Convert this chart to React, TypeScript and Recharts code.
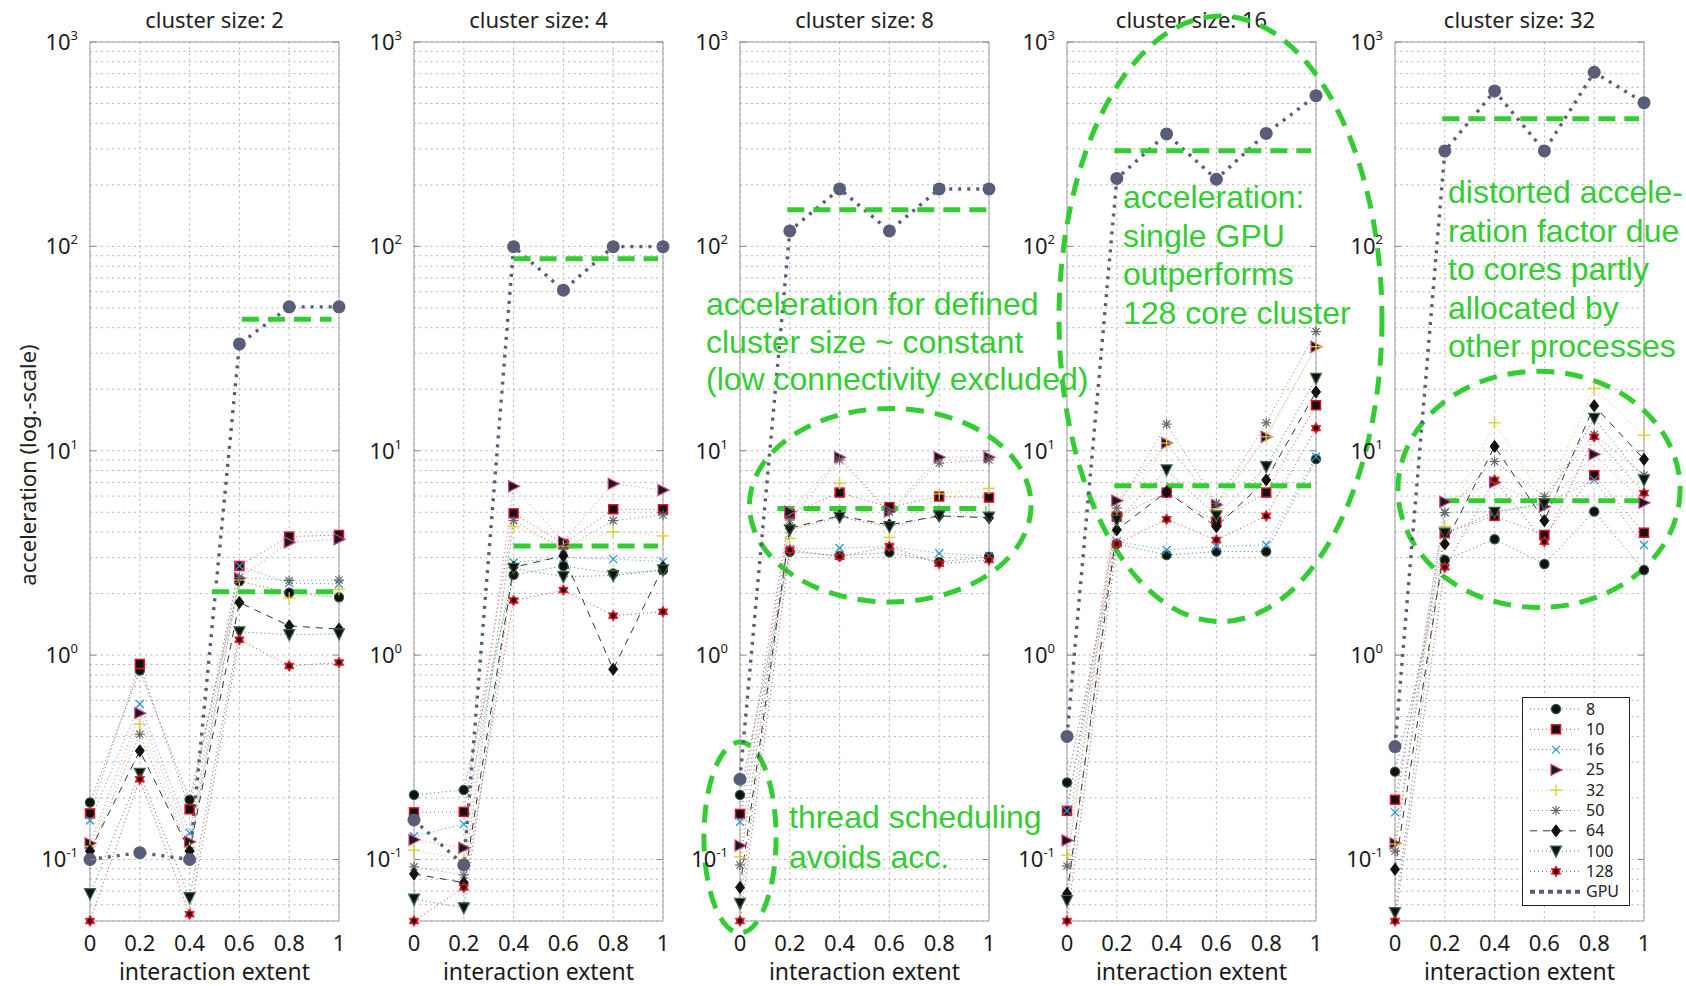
import React from 'react'
import {
  CartesianGrid,
  Legend,
  Line,
  LineChart,
  ReferenceArea,
  ReferenceLine,
  XAxis,
  YAxis,
} from 'recharts'

// cluster sizes, one panel each
const clusterSizes = [2, 4, 8, 16, 32]
const extents = [0, 0.2, 0.4, 0.6, 0.8, 1]
const yTicks = [
  0.05, 0.06, 0.07, 0.08, 0.09,
  0.1, 0.2, 0.3, 0.4, 0.5, 0.6, 0.7, 0.8, 0.9,
  1, 2, 3, 4, 5, 6, 7, 8, 9,
  10, 20, 30, 40, 50, 60, 70, 80, 90,
  100, 200, 300, 400, 500, 600, 700, 800, 900,
  1000,
]

// acceleration per number of cores, one row per cluster size
const cores8 = [
  [0.19, 0.84, 0.196, 2.3, 2.02, 1.92],
  [0.207, 0.219, 2.47, 2.73, 2.51, 2.6],
  [0.207, 3.2, 3.06, 3.18, 2.86, 3.03],
  [0.238, 3.5, 3.09, 3.21, 3.21, 9.1],
  [0.269, 2.92, 3.69, 2.79, 5.04, 2.61],
]
const cores10 = [
  [0.168, 0.905, 0.176, 2.73, 3.8, 3.87],
  [0.17, 0.171, 4.94, 3.5, 5.17, 5.17],
  [0.167, 4.9, 6.24, 5.3, 5.97, 5.9],
  [0.173, 4.76, 6.24, 4.5, 6.24, 16.7],
  [0.196, 3.95, 4.8, 3.87, 7.6, 3.97],
]
const cores16 = [
  [0.155, 0.577, 0.135, 2.73, 2.25, 2.23],
  [0.13, 0.149, 2.84, 3.0, 2.95, 2.87],
  [0.153, 3.3, 3.34, 3.4, 3.15, 3.06],
  [0.173, 3.6, 3.27, 3.4, 3.46, 9.35],
  [0.17, 5.0, 5.04, 5.5, 7.2, 3.46],
]
const cores25 = [
  [0.12, 0.52, 0.122, 2.38, 3.56, 3.69],
  [0.125, 0.114, 6.7, 3.59, 6.9, 6.42],
  [0.117, 5.04, 9.3, 5.04, 9.3, 9.3],
  [0.124, 5.7, 10.9, 5.43, 11.7, 32.3],
  [0.12, 5.63, 7.0, 5.33, 9.6, 5.57],
]
const cores32 = [
  [0.116, 0.46, 0.114, 2.33, 1.9, 2.1],
  [0.111, 0.1, 4.25, 3.4, 4.02, 3.83],
  [0.103, 3.73, 6.93, 3.77, 6.15, 6.55],
  [0.105, 4.7, 10.9, 5.2, 11.7, 32.3],
  [0.119, 4.26, 13.7, 5.8, 20.2, 11.9],
]
const cores50 = [
  [0.11, 0.41, 0.11, 2.4, 2.32, 2.33],
  [0.092, 0.084, 4.55, 3.3, 4.55, 4.85],
  [0.094, 4.58, 9.0, 5.0, 8.7, 9.0],
  [0.093, 5.24, 13.5, 5.53, 13.7, 38.3],
  [0.11, 4.98, 8.86, 5.97, 12, 7.6],
]
const cores64 = [
  [0.11, 0.34, 0.11, 1.81, 1.39, 1.34],
  [0.085, 0.077, 2.69, 3.06, 0.853, 2.69],
  [0.073, 4.18, 4.8, 4.34, 4.8, 4.7],
  [0.068, 4.1, 6.3, 4.25, 7.2, 19.4],
  [0.0895, 3.5, 10.5, 4.55, 16.6, 9.08],
]
const cores100 = [
  [0.068, 0.264, 0.065, 1.3, 1.26, 1.27],
  [0.064, 0.058, 2.66, 2.42, 2.45, 2.61],
  [0.061, 4.1, 4.73, 4.25, 4.8, 4.73],
  [0.063, 4.58, 8.06, 4.8, 8.36, 22.6],
  [0.055, 3.95, 5.0, 5.5, 14.4, 7.2],
]
const cores128 = [
  [0.05, 0.247, 0.054, 1.19, 0.885, 0.92],
  [0.05, 0.073, 1.85, 2.08, 1.56, 1.63],
  [0.05, 3.27, 3.03, 3.4, 2.8, 2.92],
  [0.05, 3.5, 4.62, 3.66, 4.8, 12.9],
  [0.05, 2.69, 7.2, 3.59, 11.7, 6.2],
]
const gpu = [
  [0.1, 0.108, 0.1, 33.3, 50.6, 50.6],
  [0.156, 0.094, 99.7, 61, 99.7, 99.7],
  [0.247, 119, 191, 119, 191, 191],
  [0.4, 215, 355, 213, 357, 546],
  [0.357, 293, 576, 293, 711, 505],
]

// green dashed "mean level" marks, per panel
const gpuLevel = [44, 87, 151, 294, 421]
const gpuLevelFrom = [0.61, 0.4, 0.19, 0.19, 0.19]
const gpuLevelTo = [0.97, 0.98, 1, 0.98, 0.98]
const cpuLevel = [2.04, 3.42, 5.22, 6.74, 5.7]
const cpuLevelFrom = [0.49, 0.4, 0.15, 0.19, 0.19]
const cpuLevelTo = [1, 0.98, 0.99, 0.98, 1.01]

// dashed ellipses (bounding box in data units)
const ellipses = [
  { panel: 2, x1: 0.038, x2: 1.169, y1: 1.82, y2: 16.1 },
  { panel: 2, x1: -0.145, x2: 0.145, y1: 0.0437, y2: 0.376 },
  { panel: 3, x1: -0.032, x2: 1.265, y1: 1.46, y2: 1341 },
  { panel: 4, x1: 0.012, x2: 1.145, y1: 1.71, y2: 24.5 },
]

const notes = [
  { x: 706, y: 315, step: 37.7, lines: ['acceleration for defined', 'cluster size ~ constant', '(low connectivity excluded)'] },
  { x: 789, y: 828, step: 39.7, lines: ['thread scheduling', 'avoids acc.'] },
  { x: 1123, y: 208, step: 38.5, lines: ['acceleration:', 'single GPU', 'outperforms', '128 core cluster'] },
  { x: 1448, y: 203, step: 38.5, lines: ['distorted accele-', 'ration factor due', 'to cores partly', 'allocated by', 'other processes'] },
]

const series = [
  { key: 's8', name: '8', values: cores8, color: '#4a7a5a', width: 1, dash: '1 3', marker: 'circle' },
  { key: 's10', name: '10', values: cores10, color: '#e84a4a', width: 1, dash: '1 3', marker: 'square' },
  { key: 's16', name: '16', values: cores16, color: '#3aa0d8', width: 1, dash: '1 3', marker: 'cross' },
  { key: 's25', name: '25', values: cores25, color: '#e07aa8', width: 1, dash: '1 3', marker: 'triRight' },
  { key: 's32', name: '32', values: cores32, color: '#d8cc50', width: 1, dash: '1 3', marker: 'plus' },
  { key: 's50', name: '50', values: cores50, color: '#888888', width: 1, dash: '1 3', marker: 'star' },
  { key: 's64', name: '64', values: cores64, color: '#333333', width: 1, dash: '7 6', marker: 'diamond' },
  { key: 's100', name: '100', values: cores100, color: '#4a7a5a', width: 1, dash: '1 3', marker: 'triDown' },
  { key: 's128', name: '128', values: cores128, color: '#e43a3a', width: 1, dash: '1 3', marker: 'hexagram' },
  { key: 'gpu', name: 'GPU', values: gpu, color: '#5a5d78', width: 3.4, dash: '3 6', marker: 'gpu' },
]

const GREEN = '#33cc33'
const AXIS_FONT = "'Noto Sans', 'DejaVu Sans', sans-serif"
const NOTE_FONT = "'Liberation Sans', Arial, sans-serif"
const PLOT_W = 249
const AXIS_W = 70
const CHART_W = AXIS_W + PLOT_W + 45
const CHART_H = 986
const plotLefts = [90, 414, 740, 1067, 1395]

function Marker({ kind, cx, cy }: { kind: string; cx: number; cy: number }) {
  if (cx == null || cy == null) return <g />
  switch (kind) {
    case 'circle':
      return <circle cx={cx} cy={cy} r={4.6} fill="#111" stroke="#2e5c3c" strokeWidth={1.2} />
    case 'square':
      return <rect x={cx - 4.5} y={cy - 4.5} width={9} height={9} fill="#111" stroke="#e0102a" strokeWidth={1.5} />
    case 'cross':
      return (
        <g stroke="#2a98d0" strokeWidth={1.3}>
          <line x1={cx - 4} y1={cy - 4} x2={cx + 4} y2={cy + 4} />
          <line x1={cx - 4} y1={cy + 4} x2={cx + 4} y2={cy - 4} />
        </g>
      )
    case 'triRight':
      return (
        <polygon
          points={`${cx - 5},${cy - 5.5} ${cx + 6},${cy} ${cx - 5},${cy + 5.5}`}
          fill="#1a1a1a"
          stroke="#d0408a"
          strokeWidth={1.2}
        />
      )
    case 'plus':
      return (
        <g stroke="#d9cd3a" strokeWidth={1.3}>
          <line x1={cx - 6} y1={cy} x2={cx + 6} y2={cy} />
          <line x1={cx} y1={cy - 6} x2={cx} y2={cy + 6} />
        </g>
      )
    case 'star':
      return (
        <g stroke="#666" strokeWidth={1.2}>
          <line x1={cx - 5} y1={cy} x2={cx + 5} y2={cy} />
          <line x1={cx} y1={cy - 5} x2={cx} y2={cy + 5} />
          <line x1={cx - 3.6} y1={cy - 3.6} x2={cx + 3.6} y2={cy + 3.6} />
          <line x1={cx - 3.6} y1={cy + 3.6} x2={cx + 3.6} y2={cy - 3.6} />
        </g>
      )
    case 'diamond':
      return (
        <polygon
          points={`${cx},${cy - 6} ${cx + 4.5},${cy} ${cx},${cy + 6} ${cx - 4.5},${cy}`}
          fill="#111"
          stroke="#111"
        />
      )
    case 'triDown':
      return (
        <polygon
          points={`${cx - 5.5},${cy - 5} ${cx + 5.5},${cy - 5} ${cx},${cy + 6}`}
          fill="#111"
          stroke="#3a6a4a"
          strokeWidth={1.2}
        />
      )
    case 'hexagram': {
      const r = 5.5
      const tri = (rot: number) =>
        [0, 1, 2]
          .map((k) => {
            const a = rot + (k * 2 * Math.PI) / 3
            return `${cx + r * Math.sin(a)},${cy - r * Math.cos(a)}`
          })
          .join(' ')
      return (
        <g fill="#e01020" stroke="#e01020" strokeWidth={0.8}>
          <polygon points={tri(0)} />
          <polygon points={tri(Math.PI)} />
          <circle cx={cx} cy={cy} r={2.4} fill="#111" stroke="none" />
        </g>
      )
    }
    case 'gpu':
      return <circle cx={cx} cy={cy} r={6.5} fill="#5a5d78" />
    default:
      return <g />
  }
}

function DecadeTick(props: any) {
  const { x, y, payload } = props
  const lg = Math.log10(payload.value)
  const exp = Math.round(lg)
  if (Math.abs(lg - exp) > 1e-6) return <g />
  const left = x + 12
  return (
    <g>
      <line x1={left} x2={left + 6} y1={y} y2={y} stroke="#888" />
      <line x1={left + PLOT_W - 6} x2={left + PLOT_W} y1={y} y2={y} stroke="#888" />
      <text x={x} y={y + 8} textAnchor="end" fill="#1a1a1a" fontSize={22} fontFamily={AXIS_FONT}>
        10
        <tspan dy={-10} fontSize={13}>
          {exp}
        </tspan>
      </text>
    </g>
  )
}

function LegendBox() {
  return (
    <svg width={108} height={209} style={{ display: 'block' }}>
      <rect x={0.5} y={0.5} width={107} height={208} fill="#fff" stroke="#222" />
      {series.map((s, i) => {
        const y = 12 + i * 20.3
        return (
          <g key={s.key}>
            <line
              x1={8}
              x2={58}
              y1={y}
              y2={y}
              stroke={s.color}
              strokeWidth={s.key === 'gpu' ? 4 : s.width}
              strokeDasharray={s.key === 'gpu' ? '5 4' : s.dash}
            />
            {s.key !== 'gpu' && <Marker kind={s.marker} cx={34} cy={y} />}
            <text x={64} y={y + 5.5} fontSize={16} fill="#222" fontFamily={AXIS_FONT}>
              {s.name}
            </text>
          </g>
        )
      })}
    </svg>
  )
}

function Panel({ index }: { index: number }) {
  const data = extents.map((x, i) => {
    const row: Record<string, number> = { x }
    series.forEach((s) => {
      row[s.key] = s.values[index][i]
    })
    return row
  })

  return (
    <div style={{ position: 'absolute', left: plotLefts[index] - AXIS_W, top: 0 }}>
      <LineChart
        width={CHART_W}
        height={CHART_H}
        data={data}
        margin={{ top: 42, right: 45, bottom: 5, left: 0 }}
      >
        <CartesianGrid stroke="#b2b2b2" strokeDasharray="2 3.5" />
        <XAxis
          dataKey="x"
          type="number"
          domain={[0, 1]}
          ticks={extents}
          interval={0}
          tickLine={false}
          axisLine={false}
          tickSize={0}
          tickMargin={14}
          height={60}
          tick={{ fontSize: 22, fill: '#1a1a1a', fontFamily: AXIS_FONT }}
          tickFormatter={(v) => String(v)}
          label={{
            value: 'interaction extent',
            position: 'insideBottom',
            offset: 1,
            fontSize: 23,
            fill: '#1a1a1a',
            fontFamily: AXIS_FONT,
          }}
        />
        <YAxis
          type="number"
          scale="log"
          domain={[0.05, 1000]}
          ticks={yTicks}
          interval={0}
          width={AXIS_W}
          axisLine={false}
          tickLine={false}
          tickSize={0}
          tickMargin={12}
          tick={<DecadeTick />}
        />
        <ReferenceArea
          x1={0}
          x2={1}
          y1={0.05}
          y2={1000}
          fill="none"
          fillOpacity={0}
          stroke="#a0a0a0"
          strokeWidth={1}
          ifOverflow="visible"
        />
        {series.map((s) => (
          <Line
            key={s.key}
            type="linear"
            dataKey={s.key}
            name={s.name}
            stroke={s.color}
            strokeWidth={s.width}
            strokeDasharray={s.dash}
            dot={(p: any) => <Marker key={`${s.key}-${p.index}`} kind={s.marker} cx={p.cx} cy={p.cy} />}
            activeDot={false}
            isAnimationActive={false}
          />
        ))}
        <ReferenceLine
          segment={[
            { x: gpuLevelFrom[index], y: gpuLevel[index] },
            { x: gpuLevelTo[index], y: gpuLevel[index] },
          ]}
          stroke={GREEN}
          strokeWidth={5}
          strokeDasharray="17 9"
          ifOverflow="visible"
        />
        <ReferenceLine
          segment={[
            { x: cpuLevelFrom[index], y: cpuLevel[index] },
            { x: cpuLevelTo[index], y: cpuLevel[index] },
          ]}
          stroke={GREEN}
          strokeWidth={5}
          strokeDasharray="17 9"
          ifOverflow="visible"
        />
        {ellipses
          .filter((e) => e.panel === index)
          .map((e, k) => (
            <ReferenceArea
              key={k}
              x1={e.x1}
              x2={e.x2}
              y1={e.y1}
              y2={e.y2}
              ifOverflow="visible"
              shape={(p: any) => (
                <ellipse
                  cx={p.x + p.width / 2}
                  cy={p.y + p.height / 2}
                  rx={Math.abs(p.width) / 2}
                  ry={Math.abs(p.height) / 2}
                  fill="none"
                  stroke={GREEN}
                  strokeWidth={5}
                  strokeDasharray="18 11"
                />
              )}
            />
          ))}
        {index === 4 && (
          <Legend
            layout="horizontal"
            verticalAlign="middle"
            align="center"
            wrapperStyle={{ left: 197, top: 697, width: 108, height: 209 }}
            content={() => <LegendBox />}
          />
        )}
      </LineChart>
    </div>
  )
}

export default function App() {
  return (
    <div
      style={{
        position: 'absolute',
        left: 0,
        top: 0,
        width: 1686,
        height: 986,
        background: '#fff',
        overflow: 'hidden',
      }}
    >
      <style>{'.recharts-surface{overflow:visible}'}</style>
      <svg width={1686} height={986} style={{ position: 'absolute', left: 0, top: 0 }}>
        {clusterSizes.map((c, i) => (
          <text
            key={c}
            x={plotLefts[i] + PLOT_W / 2}
            y={28}
            textAnchor="middle"
            fontSize={22}
            fill="#222"
            fontFamily={AXIS_FONT}
          >
            {`cluster size: ${c}`}
          </text>
        ))}
        <text
          transform="translate(27,465) rotate(-90)"
          textAnchor="middle"
          dominantBaseline="central"
          fontSize={22}
          fill="#222"
          fontFamily={AXIS_FONT}
        >
          acceleration (log.-scale)
        </text>
      </svg>
      {clusterSizes.map((c, i) => (
        <Panel key={c} index={i} />
      ))}
      <svg
        width={1686}
        height={986}
        style={{ position: 'absolute', left: 0, top: 0, pointerEvents: 'none' }}
      >
        {notes.map((n, i) => (
          <text key={i} fontSize={32} fill={GREEN} fontFamily={NOTE_FONT}>
            {n.lines.map((l, k) => (
              <tspan key={k} x={n.x} y={n.y + k * n.step}>
                {l}
              </tspan>
            ))}
          </text>
        ))}
      </svg>
    </div>
  )
}
